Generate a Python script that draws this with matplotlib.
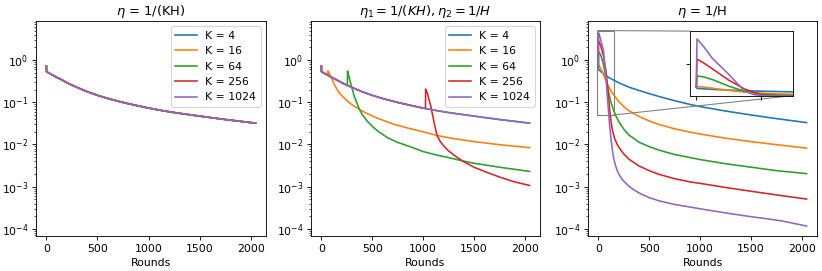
import matplotlib
matplotlib.use("Agg")
import matplotlib.pyplot as plt
from mpl_toolkits.axes_grid1.inset_locator import mark_inset

# ---------------- data ----------------
k_labels = ["K = 4", "K = 16", "K = 64", "K = 256", "K = 1024"]
colors = ["tab:blue", "tab:orange", "tab:green", "tab:red", "tab:purple"]

# eta = 1/(KH): all K give the same curve
base_rounds = [0, 1, 10, 25, 50, 75, 100, 150, 200, 250, 300, 400, 500, 600, 750, 900, 1000, 1125, 1250, 1500, 1750, 2048]
base_loss = [0.72, 0.53, 0.515, 0.49, 0.455, 0.42, 0.39, 0.34, 0.29, 0.255, 0.225, 0.178, 0.146, 0.123, 0.099, 0.082, 0.073, 0.064, 0.057, 0.047, 0.039, 0.032]

# eta1 = 1/(KH), eta2 = 1/H
p2_k16_rounds = [0, 1, 10, 25, 50, 64, 65, 75, 90, 100, 125, 150, 175, 200, 250, 300, 372, 450, 550, 715, 850, 1000, 1140, 1300, 1500, 1750, 2048]
p2_k16_loss = [0.72, 0.53, 0.515, 0.49, 0.455, 0.43, 0.55, 0.50, 0.42, 0.37, 0.27, 0.21, 0.17, 0.145, 0.11, 0.088, 0.068, 0.054, 0.042, 0.030, 0.0245, 0.020, 0.0163, 0.0138, 0.0117, 0.0099, 0.0084]

p2_k64_rounds = [0, 1, 10, 25, 50, 75, 100, 150, 200, 250, 256, 257, 265, 275, 290, 305, 323, 350, 372, 400, 450, 500, 552, 650, 750, 878, 1000, 1125, 1250, 1385, 1500, 1750, 2048]
p2_k64_loss = [0.72, 0.53, 0.515, 0.49, 0.455, 0.42, 0.39, 0.34, 0.29, 0.255, 0.251, 0.55, 0.47, 0.37, 0.27, 0.20, 0.14, 0.095, 0.07, 0.052, 0.036, 0.027, 0.021, 0.0145, 0.0112, 0.0088, 0.0068, 0.0057, 0.0049, 0.0041, 0.0036, 0.0029, 0.0023]

p2_k256_rounds = [0, 1, 10, 25, 50, 75, 100, 150, 200, 250, 300, 400, 500, 600, 750, 900, 1000, 1024, 1025, 1040, 1055, 1074, 1090, 1107, 1125, 1140, 1170, 1205, 1250, 1300, 1385, 1500, 1625, 1750, 1900, 2048]
p2_k256_loss = [0.72, 0.53, 0.515, 0.49, 0.455, 0.42, 0.39, 0.34, 0.29, 0.255, 0.225, 0.178, 0.146, 0.123, 0.099, 0.082, 0.073, 0.071, 0.205, 0.17, 0.125, 0.085, 0.055, 0.035, 0.022, 0.0158, 0.0117, 0.0091, 0.0071, 0.0057, 0.0041, 0.0029, 0.0022, 0.0017, 0.0013, 0.00107]

# eta = 1/H
p3_k4_rounds = [0, 1, 25, 50, 100, 150, 200, 300, 400, 500, 600, 750, 900, 1000, 1250, 1500, 1750, 2048]
p3_k4_loss = [0.70, 0.60, 0.53, 0.47, 0.39, 0.335, 0.29, 0.228, 0.19, 0.16, 0.136, 0.109, 0.089, 0.079, 0.062, 0.050, 0.041, 0.033]

p3_k16_rounds = [0, 1, 10, 25, 50, 75, 100, 125, 150, 200, 250, 300, 400, 500, 600, 750, 900, 1000, 1250, 1500, 1750, 2048]
p3_k16_loss = [0.70, 0.75, 0.71, 0.62, 0.45, 0.32, 0.235, 0.185, 0.15, 0.104, 0.079, 0.063, 0.046, 0.036, 0.0295, 0.0235, 0.0196, 0.0177, 0.0141, 0.0117, 0.0099, 0.0082]

p3_k64_rounds = [0, 1, 10, 25, 50, 75, 100, 125, 150, 175, 200, 250, 300, 400, 500, 600, 750, 900, 1000, 1250, 1500, 1750, 2048]
p3_k64_loss = [0.70, 1.55, 1.50, 1.28, 0.78, 0.38, 0.17, 0.098, 0.064, 0.046, 0.035, 0.023, 0.0168, 0.0113, 0.0089, 0.0073, 0.0058, 0.0049, 0.0044, 0.0035, 0.0029, 0.0024, 0.00204]

p3_k256_rounds = [0, 1, 10, 25, 50, 75, 100, 110, 125, 140, 160, 190, 225, 250, 300, 400, 500, 600, 750, 900, 1000, 1250, 1500, 1750, 2048]
p3_k256_loss = [0.70, 2.85, 2.6, 2.1, 1.25, 0.55, 0.14, 0.07, 0.034, 0.021, 0.0138, 0.0095, 0.0071, 0.0060, 0.0045, 0.0031, 0.0024, 0.00195, 0.00155, 0.0013, 0.0012, 0.00096, 0.00078, 0.00064, 0.00051]

p3_k1024_rounds = [0, 1, 10, 25, 50, 75, 90, 100, 110, 120, 130, 140, 150, 165, 180, 200, 225, 250, 300, 350, 400, 500, 600, 750, 900, 1000, 1250, 1500, 1650, 1800, 1900, 2048]
p3_k1024_loss = [0.70, 4.4, 3.9, 2.9, 1.7, 0.38, 0.12, 0.06, 0.03, 0.017, 0.0105, 0.0068, 0.0048, 0.0034, 0.0026, 0.0020, 0.0016, 0.00135, 0.00103, 0.00084, 0.00071, 0.00055, 0.00046, 0.00038, 0.00033, 0.0003, 0.00024, 0.000195, 0.000175, 0.000155, 0.000139, 0.000117]

titles = [r"$\eta$ = 1/(KH)", r"$\eta_1 = 1/(KH), \eta_2 = 1/H$", r"$\eta$ = 1/H"]
xticks = [0, 500, 1000, 1500, 2000]

panel1 = [(base_rounds, base_loss)] * 5
panel2 = [(base_rounds, base_loss), (p2_k16_rounds, p2_k16_loss), (p2_k64_rounds, p2_k64_loss),
          (p2_k256_rounds, p2_k256_loss), (base_rounds, base_loss)]
panel3 = [(p3_k4_rounds, p3_k4_loss), (p3_k16_rounds, p3_k16_loss), (p3_k64_rounds, p3_k64_loss),
          (p3_k256_rounds, p3_k256_loss), (p3_k1024_rounds, p3_k1024_loss)]

# ---------------- figure ----------------
DPI = 78
fig = plt.figure(figsize=(822 / DPI, 271 / DPI), dpi=DPI)
W, H = 822, 271
lefts = [36, 311, 588]
widths = [230, 229, 229]
top, bottom = 21, 236

axes = []
for i, panel in enumerate([panel1, panel2, panel3]):
    ax = fig.add_axes([lefts[i] / W, (H - bottom) / H, widths[i] / W, (bottom - top) / H])
    for (r, v), lab, c in zip(panel, k_labels, colors):
        ax.plot(r, v, color=c, label=lab)
    ax.set_yscale("log")
    ax.set_ylim(6.8e-5, 8.4)
    ax.set_xlim(-102, 2150)
    ax.set_xticks(xticks)
    ax.set_title(titles[i])
    ax.set_xlabel("Rounds")
    if i < 2:
        ax.legend(loc="upper right")
    axes.append(ax)

# inset on the third panel
ax3 = axes[2]
axins = ax3.inset_axes([0.445, 0.653, 0.45, 0.30])
for (r, v), c in zip(panel3, colors):
    axins.plot(r, v, color=c)
axins.set_xlim(-10, 150)
axins.set_ylim(0.05, 5)
axins.set_xticks([0, 100])
axins.set_yticks([2.5])
axins.set_xticklabels([])
axins.set_yticklabels([])
mark_inset(ax3, axins, loc1=2, loc2=4, fc="none", ec="0.5")

fig.savefig("out.png", dpi=DPI)
